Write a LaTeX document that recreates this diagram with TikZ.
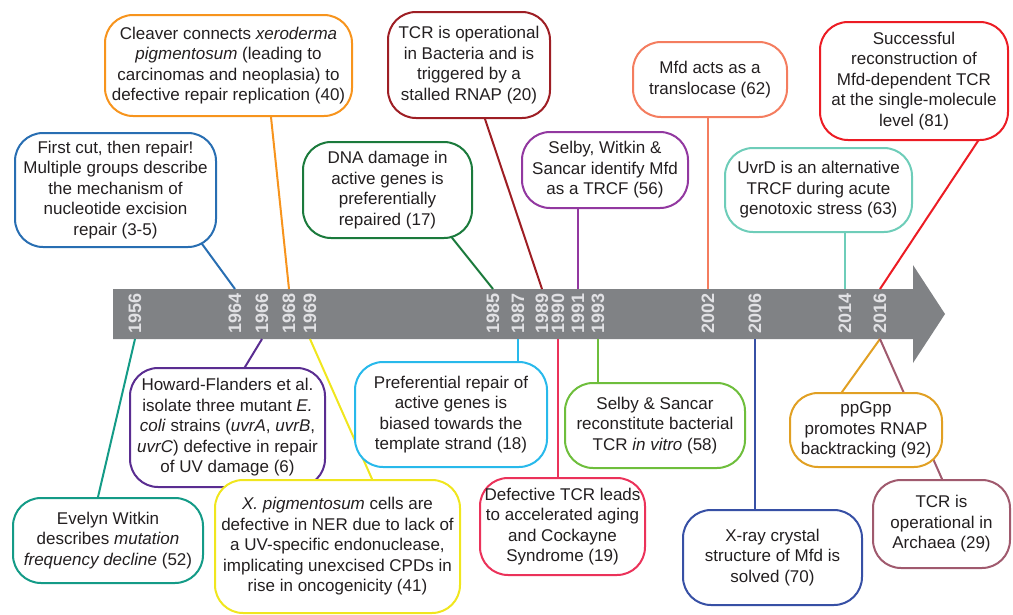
\documentclass[tikz,border=0pt]{standalone}
\usepackage{fontspec}
\setmainfont{Liberation Sans}
\pgfdeclarelayer{bg}
\pgfsetlayers{bg,main}
\definecolor{txt}{RGB}{35,31,32}
\definecolor{barc}{RGB}{128,130,133}
\definecolor{yrc}{RGB}{225,225,228}
\definecolor{cA}{RGB}{40,110,178}
\definecolor{cB}{RGB}{247,148,29}
\definecolor{cC}{RGB}{27,122,60}
\definecolor{cD}{RGB}{158,30,36}
\definecolor{cE}{RGB}{146,56,160}
\definecolor{cF}{RGB}{244,125,95}
\definecolor{cG}{RGB}{236,28,36}
\definecolor{cH}{RGB}{110,205,185}
\definecolor{cI}{RGB}{20,155,135}
\definecolor{cJ}{RGB}{90,45,145}
\definecolor{cK}{RGB}{240,230,30}
\definecolor{cL}{RGB}{40,185,235}
\definecolor{cM}{RGB}{235,50,90}
\definecolor{cN}{RGB}{110,190,60}
\definecolor{cO}{RGB}{55,80,165}
\definecolor{cP}{RGB}{225,160,35}
\definecolor{cQ}{RGB}{160,90,110}
\tikzset{
 box/.style={draw, line width=2pt, rounded corners=28pt, fill=white, align=center,
   inner sep=0pt, font=\fontsize{17}{20.5}\selectfont, text=txt},
 yr/.style={rotate=90, anchor=west, inner sep=0pt, font=\fontsize{18}{18}\selectfont\bfseries, text=yrc},
 con/.style={line width=2pt, shorten <=-14pt},
}
\begin{document}
\begin{tikzpicture}[x=1pt,y=-1pt]
\useasboundingbox (0,0) rectangle (1013,614);
% bar points
\foreach \n/\x in {1956/135,1964/235,1966/262,1968/289,1969/310,1985/493,1987/518,1989/542,1990/558,1991/578,1993/598,2002/708,2006/755,2014/845,2016/880}{
  \coordinate (t\n) at (\x,289);
  \coordinate (u\n) at (\x,339);
}
% top boxes
\node[box, draw=cA, minimum width=201pt, minimum height=114pt] (b1) at (115.5,190)
 {First cut, then repair!\\Multiple groups describe\\the mechanism of\\nucleotide excision\\repair (3-5)};
\node[box, draw=cB, minimum width=247pt, minimum height=101pt] (b2) at (228.5,65.5)
 {Cleaver connects \textit{xeroderma}\\\textit{pigmentosum} (leading to\\carcinomas and neoplasia) to\\defective repair replication (40)};
\node[box, draw=cC, minimum width=169pt, minimum height=96pt] (b3) at (387.5,190)
 {DNA damage in\\active genes is\\preferentially\\repaired (17)};
\node[box, draw=cD, minimum width=162pt, minimum height=106pt] (b4) at (469,65)
 {TCR is operational\\in Bacteria and is\\triggered by a\\stalled RNAP (20)};
\node[box, draw=cE, minimum width=166pt, minimum height=76pt] (b5) at (605,170)
 {Selby, Witkin \&\\Sancar identify Mfd\\as a TRCF (56)};
\node[box, draw=cF, minimum width=154pt, minimum height=75pt] (b6) at (710,79.5)
 {Mfd acts as a\\translocase (62)};
\node[box, draw=cG, minimum width=188pt, minimum height=118pt] (b7) at (914,81)
 {Successful\\reconstruction of\\Mfd-dependent TCR\\at the single-molecule\\level (81)};
\node[box, draw=cH, minimum width=187pt, minimum height=84pt] (b8) at (818.5,190)
 {UvrD is an alternative\\TRCF during acute\\genotoxic stress (63)};
% bottom boxes
\node[box, draw=cI, minimum width=190pt, minimum height=85pt] (b9) at (108,540.5)
 {Evelyn Witkin\\describes \textit{mutation}\\\textit{frequency decline} (52)};
\node[box, draw=cJ, minimum width=195pt, minimum height=119pt] (b10) at (227.5,427.5)
 {Howard-Flanders et al.\\isolate three mutant \textit{E.}\\\textit{coli} strains (\textit{uvrA}, \textit{uvrB},\\\textit{uvrC}) defective in repair\\of UV damage (6)};
\node[box, draw=cK, minimum width=245pt, minimum height=133pt] (b11) at (337.5,546.5)
 {\textit{X. pigmentosum} cells are\\defective in NER due to lack of\\a UV-specific endonuclease,\\implicating unexcised CPDs in\\rise in oncogenicity (41)};
\node[box, draw=cL, minimum width=192pt, minimum height=105pt] (b12) at (451,414.5)
 {Preferential repair of\\active genes is\\biased towards the\\template strand (18)};
\node[box, draw=cM, minimum width=165pt, minimum height=97pt] (b13) at (562.5,526.5)
 {Defective TCR leads\\to accelerated aging\\and Cockayne\\Syndrome (19)};
\node[box, draw=cN, minimum width=180pt, minimum height=85pt] (b14) at (655,425.5)
 {Selby \& Sancar\\reconstitute bacterial\\TCR \textit{in vitro} (58)};
\node[box, draw=cO, minimum width=179pt, minimum height=95pt] (b15) at (772.5,557.5)
 {X-ray crystal\\structure of Mfd is\\solved (70)};
\node[box, draw=cP, minimum width=152pt, minimum height=74pt] (b16) at (866,430)
 {ppGpp\\promotes RNAP\\backtracking (92)};
\node[box, draw=cQ, minimum width=137pt, minimum height=88pt] (b17) at (941.5,524)
 {TCR is\\operational in\\Archaea (29)};
% year labels
\foreach \n/\x in {1956/135,1964/235,1966/262,1968/289,1969/310,1985/493,1987/518,1989/542,1990/558,1991/578,1993/598,2002/708,2006/755,2014/845,2016/880}{
  \node[yr] (y\n) at (\x,334) {\n};
}
\begin{pgfonlayer}{bg}
\fill[barc] (113,289) -- (913,289) -- (913,265) -- (945,314) -- (913,363) -- (913,339) -- (113,339) -- cycle;
\draw[con, cA] ([xshift=89.5pt]b1.south) -- (t1964);
\draw[con, cB] ([xshift=42.5pt]b2.south) -- (t1968);
\draw[con, cC] ([xshift=65.5pt]b3.south) -- (t1985);
\draw[con, cD] ([xshift=16pt]b4.south) -- (t1989);
\draw[con, cE] ([xshift=-27pt]b5.south) -- (t1991);
\draw[con, cF] ([xshift=-2pt]b6.south) -- (t2002);
\draw[con, cG] ([xshift=64pt]b7.south) -- (t2016);
\draw[con, cH] ([xshift=26.5pt]b8.south) -- (t2014);
\draw[con, cI] ([xshift=-10pt]b9.north) -- (u1956);
\draw[con, cJ] ([xshift=17.5pt]b10.north) -- (u1966);
\draw[con, cK] ([xshift=34.5pt]b11.north) -- (u1969);
\draw[con, cL] ([xshift=67pt]b12.north) -- (u1987);
\draw[con, cM] ([xshift=-4.5pt]b13.north) -- (u1990);
\draw[con, cN] ([xshift=-57pt]b14.north) -- (u1993);
\draw[con, cO] ([xshift=-17.5pt]b15.north) -- (u2006);
\draw[con, cP] ([xshift=-24pt]b16.north) -- (u2016);
\draw[con, cQ] ([xshift=0.5pt]b17.north) -- (u2016);
\end{pgfonlayer}
\end{tikzpicture}
\end{document}
